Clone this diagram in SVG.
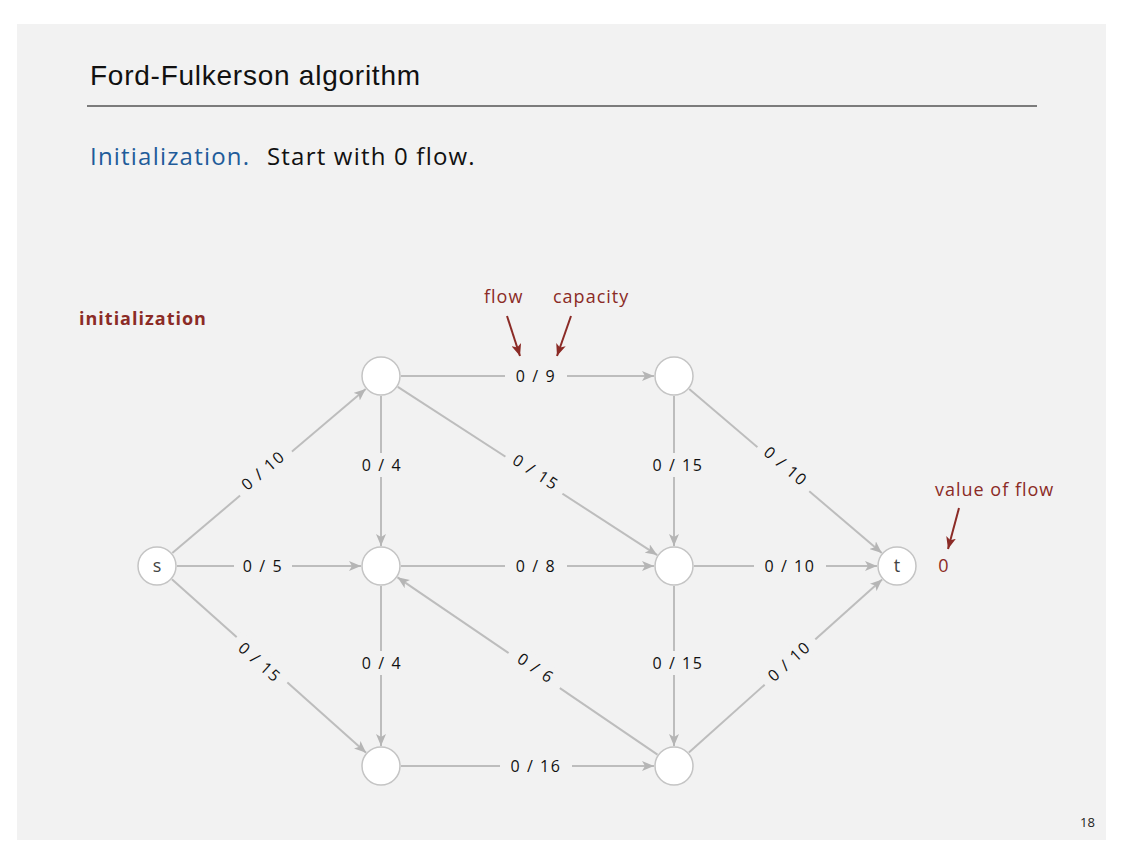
<svg xmlns="http://www.w3.org/2000/svg" width="1122" height="866" viewBox="0 0 1122 866">
<defs>
<marker id="ah" markerWidth="12" markerHeight="10" refX="12" refY="5" orient="auto" markerUnits="userSpaceOnUse">
<path d="M0,0 L12,5 L0,10 L3,5 z" fill="#b5b5b5"/>
</marker>
<marker id="rh" markerWidth="12" markerHeight="10" refX="12" refY="5" orient="auto" markerUnits="userSpaceOnUse">
<path d="M0,0 L12,5 L0,10 L3,5 z" fill="#8b2b26"/>
</marker>
<style>
.e{stroke:#bdbdbd;stroke-width:2;fill:none;marker-end:url(#ah)}
.n{fill:#ffffff;stroke:#c4c4c4;stroke-width:1.5}
.lb{fill:#f2f2f2}
.lt{font-family:"Open Sans","DejaVu Sans",sans-serif;font-size:16px;letter-spacing:1.6px;fill:#111;text-anchor:middle}
.nt{font-family:"Open Sans","DejaVu Sans",sans-serif;font-size:18px;fill:#444;text-anchor:middle}
.red{fill:#8b2b26;font-family:"Open Sans","DejaVu Sans",sans-serif;letter-spacing:1px}
.ra{stroke:#8b2b26;stroke-width:2;fill:none;marker-end:url(#rh)}
</style>
</defs>
<rect x="0" y="0" width="1122" height="866" fill="#ffffff"/>
<rect x="17" y="24" width="1089" height="816" fill="#f2f2f2"/>
<text x="90" y="85" font-family="Liberation Sans, sans-serif" font-size="28" letter-spacing="0.75" fill="#111">Ford-Fulkerson algorithm</text>
<line x1="87" y1="106" x2="1037" y2="106" stroke="#555" stroke-width="1.5"/>
<text y="165" font-family="Open Sans, DejaVu Sans, sans-serif" font-size="24" letter-spacing="1.2" fill="#111"><tspan x="90" fill="#1f5c9a">Initialization.</tspan><tspan x="267">Start with 0 flow.</tspan></text>
<text x="79" y="325" class="red" font-size="18" font-weight="bold" letter-spacing="0.8">initialization</text>

<g id="connectors">
<line class="e" x1="172.3" y1="553.1" x2="365.7" y2="388.9"/>
<line class="e" x1="177" y1="566" x2="361" y2="566"/>
<line class="e" x1="171.9" y1="579.3" x2="366.1" y2="752.7"/>
<line class="e" x1="401" y1="376" x2="654" y2="376"/>
<line class="e" x1="381" y1="396" x2="381" y2="546"/>
<line class="e" x1="397.8" y1="386.9" x2="657.2" y2="555.1"/>
<line class="e" x1="401" y1="566" x2="654" y2="566"/>
<line class="e" x1="381" y1="586" x2="381" y2="746"/>
<line class="e" x1="657.5" y1="754.7" x2="397.5" y2="577.3"/>
<line class="e" x1="401" y1="766" x2="654" y2="766"/>
<line class="e" x1="674" y1="396" x2="674" y2="546"/>
<line class="e" x1="689.2" y1="389" x2="881.8" y2="553"/>
<line class="e" x1="694" y1="566" x2="877" y2="566"/>
<line class="e" x1="674" y1="586" x2="674" y2="746"/>
<line class="e" x1="688.9" y1="752.6" x2="882.1" y2="579.4"/>

<g transform="translate(263,470) rotate(-40.3)"><rect class="lb" x="-34" y="-11" width="68" height="22"/><text class="lt" y="6">0 / 10</text></g>
<g transform="translate(263,566)"><rect class="lb" x="-29" y="-11" width="58" height="22"/><text class="lt" y="6">0 / 5</text></g>
<g transform="translate(260,662) rotate(41.8)"><rect class="lb" x="-34" y="-11" width="68" height="22"/><text class="lt" y="6">0 / 15</text></g>
<g transform="translate(536,376)"><rect class="lb" x="-31" y="-11" width="62" height="22"/><text class="lt" y="6">0 / 9</text></g>
<g transform="translate(382,465)"><rect class="lb" x="-27" y="-12" width="54" height="24"/><text class="lt" y="6">0 / 4</text></g>
<g transform="translate(536,472) rotate(33)"><rect class="lb" x="-34" y="-11" width="68" height="22"/><text class="lt" y="6">0 / 15</text></g>
<g transform="translate(536,566)"><rect class="lb" x="-31" y="-11" width="62" height="22"/><text class="lt" y="6">0 / 8</text></g>
<g transform="translate(382,663)"><rect class="lb" x="-27" y="-12" width="54" height="24"/><text class="lt" y="6">0 / 4</text></g>
<g transform="translate(536,668) rotate(34.3)"><rect class="lb" x="-31" y="-11" width="62" height="22"/><text class="lt" y="6">0 / 6</text></g>
<g transform="translate(536,766)"><rect class="lb" x="-36" y="-11" width="72" height="22"/><text class="lt" y="6">0 / 16</text></g>
<g transform="translate(678,465)"><rect class="lb" x="-32" y="-12" width="64" height="24"/><text class="lt" y="6">0 / 15</text></g>
<g transform="translate(786,466) rotate(40.4)"><rect class="lb" x="-34" y="-11" width="68" height="22"/><text class="lt" y="6">0 / 10</text></g>
<g transform="translate(790,566)"><rect class="lb" x="-36" y="-11" width="72" height="22"/><text class="lt" y="6">0 / 10</text></g>
<g transform="translate(678,663)"><rect class="lb" x="-32" y="-12" width="64" height="24"/><text class="lt" y="6">0 / 15</text></g>
<g transform="translate(789,661) rotate(-41.9)"><rect class="lb" x="-34" y="-11" width="68" height="22"/><text class="lt" y="6">0 / 10</text></g>
</g>

<g id="node-s"><circle class="n" cx="157" cy="566" r="19"/><text class="nt" x="157" y="572">s</text></g>
<g id="node-a"><circle class="n" cx="381" cy="376" r="19"/></g>
<g id="node-b"><circle class="n" cx="381" cy="566" r="19"/></g>
<g id="node-c"><circle class="n" cx="381" cy="766" r="19"/></g>
<g id="node-d"><circle class="n" cx="674" cy="376" r="19"/></g>
<g id="node-e"><circle class="n" cx="674" cy="566" r="19"/></g>
<g id="node-f"><circle class="n" cx="674" cy="766" r="19"/></g>
<g id="node-t"><circle class="n" cx="897" cy="566" r="19"/><text class="nt" x="897" y="572">t</text></g>

<g id="annotations">
<text x="484" y="303" class="red" font-size="18">flow</text>
<text x="553" y="303" class="red" font-size="18">capacity</text>
<line class="ra" x1="507" y1="316" x2="520" y2="356"/>
<line class="ra" x1="571" y1="316" x2="557" y2="356"/>
<text x="935" y="496" class="red" font-size="18">value of flow</text>
<line class="ra" x1="959" y1="508" x2="948" y2="549"/>
<text x="944" y="572" class="red" font-size="18" text-anchor="middle">0</text>
</g>
<text x="1080" y="827" font-family="Open Sans, DejaVu Sans, sans-serif" font-size="13" fill="#222">18</text>
</svg>
